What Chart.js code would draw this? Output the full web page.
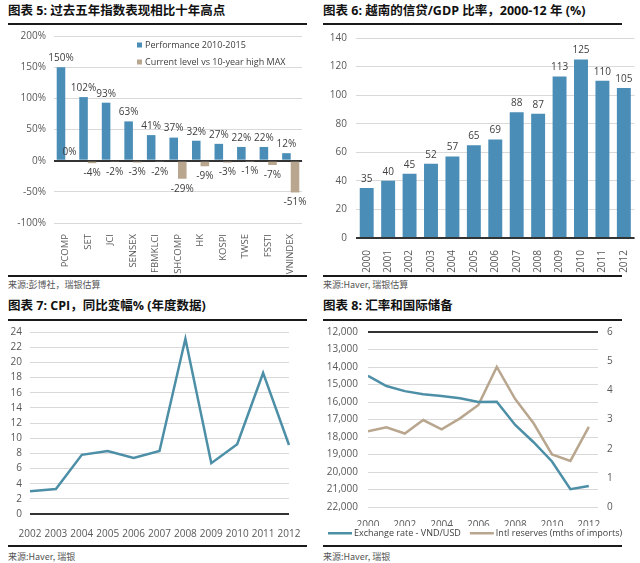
<!DOCTYPE html>
<html>
<head>
<meta charset="utf-8">
<script src="https://cdn.jsdelivr.net/npm/chart.js@4.4.0/dist/chart.umd.min.js"></script>
<style>
  body { margin: 0; background: #fff; }
  #page { position: relative; width: 640px; height: 563px; overflow: hidden; background: #fff; }
  .title { position: absolute; font: bold 12.5px "Open Sans", "Noto Sans CJK SC", sans-serif; color: #111; white-space: nowrap; line-height: 14px; }
  .rule { position: absolute; height: 2px; background: #1a1a1a; }
  .src { position: absolute; font: 9px "Noto Sans CJK SC", sans-serif; color: #555; white-space: nowrap; line-height: 11px; }
  .box { position: absolute; }
</style>
</head>
<body>
<div id="page">
  <div class="title" style="left:8px;top:4px">图表 5: 过去五年指数表现相比十年高点</div>
  <div class="rule" style="left:8px;top:23px;width:299px"></div>
  <div class="box" style="left:0;top:28px;width:320px;height:247px"><canvas id="c5"></canvas></div>
  <div class="rule" style="left:8px;top:275px;width:299px"></div>
  <div class="src" style="left:8px;top:279px">来源:彭博社，瑞银估算</div>

  <div class="title" style="left:323px;top:4px">图表 6: 越南的信贷/GDP 比率，2000-12 年 (%)</div>
  <div class="rule" style="left:323px;top:23px;width:299px"></div>
  <div class="box" style="left:320px;top:28px;width:320px;height:247px"><canvas id="c6"></canvas></div>
  <div class="rule" style="left:323px;top:275px;width:299px"></div>
  <div class="src" style="left:323px;top:279px">来源:Haver, 瑞银估算</div>

  <div class="title" style="left:8px;top:299px">图表 7: CPI，同比变幅% (年度数据)</div>
  <div class="rule" style="left:8px;top:319px;width:299px"></div>
  <div class="box" style="left:0;top:322px;width:320px;height:222px"><canvas id="c7"></canvas></div>
  <div class="rule" style="left:8px;top:545px;width:299px"></div>
  <div class="src" style="left:8px;top:551px">来源:Haver, 瑞银</div>

  <div class="title" style="left:323px;top:299px">图表 8: 汇率和国际储备</div>
  <div class="rule" style="left:323px;top:319px;width:299px"></div>
  <div class="box" style="left:320px;top:322px;width:320px;height:222px"><canvas id="c8"></canvas></div>
  <div class="rule" style="left:323px;top:545px;width:299px"></div>
  <div class="src" style="left:323px;top:551px">来源:Haver, 瑞银</div>
</div>

<script>
// chart 5
const indexNames = ['PCOMP', 'SET', 'JCI', 'SENSEX', 'FBMKLCI', 'SHCOMP', 'HK', 'KOSPI', 'TWSE', 'FSSTI', 'VNINDEX'];
const performance = [150, 102, 93, 63, 41, 37, 32, 27, 22, 22, 12];
const vsHigh = [0, -4, -2, -3, -2, -29, -9, -3, -1, -7, -51];

// chart 6
const creditYears = ['2000', '2001', '2002', '2003', '2004', '2005', '2006', '2007', '2008', '2009', '2010', '2011', '2012'];
const creditGdp = [35, 40, 45, 52, 57, 65, 69, 88, 87, 113, 125, 110, 105];

// chart 7
const cpiYears = ['2002', '2003', '2004', '2005', '2006', '2007', '2008', '2009', '2010', '2011', '2012'];
const cpi = [3.0, 3.3, 7.8, 8.3, 7.4, 8.3, 23.1, 6.7, 9.2, 18.6, 9.1];

// chart 8
const fxYears = [2000, 2001, 2002, 2003, 2004, 2005, 2006, 2007, 2008, 2009, 2010, 2011, 2012];
const vndUsd = [14500, 15090, 15380, 15560, 15660, 15790, 16000, 15980, 17310, 18300, 19400, 20980, 20800];
const reserves = [2.6, 2.73, 2.52, 2.98, 2.66, 3.04, 3.5, 4.8, 3.7, 2.87, 1.8, 1.58, 2.75];

const BLUE = '#4a8db7';
const TEAL = '#4d8fa6';
const TAN = '#b9a68f';
const GRID = '#d9d9d9';
const DARK = '#333333';
const TICK = '#595959';
const FONT = '"Open Sans", "Noto Sans", sans-serif';

Chart.defaults.font.family = FONT;
Chart.defaults.font.size = 10;
Chart.defaults.color = TICK;
Chart.defaults.animation = false;
Chart.defaults.responsive = true;
Chart.defaults.maintainAspectRatio = false;

// value labels above positive bars, below negative ones
const barLabels = {
  id: 'barLabels',
  afterDatasetsDraw(chart, args, opts) {
    const ctx = chart.ctx;
    ctx.save();
    ctx.font = '10px ' + FONT;
    ctx.fillStyle = '#404040';
    ctx.textAlign = 'center';
    chart.data.datasets.forEach((ds, i) => {
      chart.getDatasetMeta(i).data.forEach((bar, j) => {
        const v = ds.data[j];
        const text = v + (opts.suffix || '');
        if (v >= 0) {
          ctx.textBaseline = 'bottom';
          ctx.fillText(text, bar.x, bar.y - 4);
        } else {
          ctx.textBaseline = 'top';
          ctx.fillText(text, bar.x, bar.y + 5);
        }
      });
    });
    ctx.restore();
  }
};

// square markers, stacked, inside the plot (chart 5)
const boxLegend = {
  id: 'boxLegend',
  afterDraw(chart, args, opts) {
    const ctx = chart.ctx;
    const a = chart.chartArea;
    ctx.save();
    ctx.font = '9px ' + FONT;
    ctx.textBaseline = 'middle';
    ctx.textAlign = 'left';
    chart.data.datasets.forEach((ds, i) => {
      const x = a.left + opts.x;
      const y = a.top + opts.y + i * opts.step;
      ctx.fillStyle = ds.backgroundColor;
      ctx.fillRect(x, y - 2.5, 5, 5);
      ctx.fillStyle = '#404040';
      ctx.fillText(ds.label, x + 8, y);
    });
    ctx.restore();
  }
};

// line markers in one row under the x axis (chart 8)
const lineLegend = {
  id: 'lineLegend',
  afterDraw(chart, args, opts) {
    const ctx = chart.ctx;
    ctx.save();
    ctx.font = '9px ' + FONT;
    ctx.textBaseline = 'middle';
    ctx.textAlign = 'left';
    let x = opts.x;
    const y = opts.y;
    chart.data.datasets.forEach((ds) => {
      ctx.fillStyle = ds.borderColor;
      ctx.fillRect(x, y - 1, 24, 2.5);
      ctx.fillStyle = '#404040';
      ctx.fillText(ds.label, x + 26, y);
      x += 26 + ctx.measureText(ds.label).width + 9;
    });
    ctx.restore();
  }
};

function zeroGrid(zero) {
  return {
    drawTicks: false,
    color: (c) => (c.tick && c.tick.value === zero ? DARK : GRID),
    lineWidth: (c) => (c.tick && c.tick.value === zero ? 2 : 1)
  };
}

// fixed axis width, no extra label overhang so layout.padding sets the plot top
function fixWidth(w) {
  return (s) => { s.width = w; s.paddingTop = 0; s.paddingBottom = 0; };
}

new Chart(document.getElementById('c5'), {
  type: 'bar',
  data: {
    labels: indexNames,
    datasets: [
      { label: 'Performance 2010-2015', data: performance, backgroundColor: BLUE },
      { label: 'Current level vs 10-year high MAX', data: vsHigh, backgroundColor: TAN }
    ]
  },
  options: {
    layout: { padding: { top: 8, right: 18, left: 0, bottom: 0 } },
    categoryPercentage: 0.76,
    barPercentage: 1,
    plugins: {
      legend: { display: false },
      tooltip: { enabled: false },
      barLabels: { suffix: '%' },
      boxLegend: { x: 83, y: 9, step: 17 }
    },
    scales: {
      x: {
        grid: { display: false },
        border: { display: false },
        ticks: { minRotation: 90, maxRotation: 90, padding: 3, autoSkip: false, font: { size: 9.5 } },
        afterFit: (s) => { s.height = 52; }
      },
      y: {
        min: -100, max: 200,
        grid: zeroGrid(0),
        border: { display: false },
        ticks: { stepSize: 50, padding: 8, autoSkip: false, callback: (v) => v + '%' },
        afterFit: fixWidth(54)
      }
    }
  },
  plugins: [barLabels, boxLegend]
});

new Chart(document.getElementById('c6'), {
  type: 'bar',
  data: {
    labels: creditYears,
    datasets: [{ label: 'Credit/GDP', data: creditGdp, backgroundColor: BLUE }]
  },
  options: {
    layout: { padding: { top: 10, right: 4, left: 0, bottom: 0 } },
    categoryPercentage: 0.65,
    barPercentage: 1,
    plugins: { legend: { display: false }, tooltip: { enabled: false }, barLabels: {} },
    scales: {
      x: {
        grid: { display: false },
        border: { display: false },
        ticks: { minRotation: 90, maxRotation: 90, padding: 4, autoSkip: false },
        afterFit: (s) => { s.height = 37; }
      },
      y: {
        min: 0, max: 140,
        grid: zeroGrid(0),
        border: { display: false },
        ticks: { stepSize: 20, padding: 9, autoSkip: false },
        afterFit: fixWidth(36)
      }
    }
  },
  plugins: [barLabels]
});

new Chart(document.getElementById('c7'), {
  type: 'line',
  data: {
    labels: cpiYears,
    datasets: [{ label: 'CPI', data: cpi, borderColor: TEAL, borderWidth: 2.5, pointRadius: 0, tension: 0 }]
  },
  options: {
    layout: { padding: { top: 10, right: 31, left: 0, bottom: 0 } },
    plugins: { legend: { display: false }, tooltip: { enabled: false } },
    scales: {
      x: {
        offset: false,
        grid: { display: false },
        border: { display: false },
        ticks: { maxRotation: 0, padding: 6, autoSkip: false },
        afterFit: (s) => { s.height = 30; }
      },
      y: {
        min: 0, max: 24,
        grid: zeroGrid(0),
        border: { display: false },
        ticks: { stepSize: 2, padding: 8, autoSkip: false },
        afterFit: fixWidth(30)
      }
    }
  }
});

new Chart(document.getElementById('c8'), {
  type: 'line',
  data: {
    datasets: [
      {
        label: 'Exchange rate - VND/USD',
        data: fxYears.map((yr, i) => ({ x: yr, y: vndUsd[i] })),
        borderColor: TEAL, borderWidth: 2.5, pointRadius: 0, yAxisID: 'y'
      },
      {
        label: 'Intl reserves (mths of imports)',
        data: fxYears.map((yr, i) => ({ x: yr, y: reserves[i] })),
        borderColor: TAN, borderWidth: 2.5, pointRadius: 0, yAxisID: 'y1'
      }
    ]
  },
  options: {
    layout: { padding: { top: 10, right: 0, left: 0, bottom: 18 } },
    plugins: {
      tooltip: { enabled: false },
      legend: { display: false },
      lineLegend: { x: 8, y: 211 }
    },
    scales: {
      x: {
        type: 'linear',
        min: 2000, max: 2012.5,
        grid: { display: false },
        border: { display: false },
        ticks: { stepSize: 2, includeBounds: false, padding: 4, maxRotation: 0, autoSkip: false, callback: (v) => String(v) },
        afterFit: (s) => { s.height = 19; }
      },
      y: {
        position: 'left',
        reverse: true,
        min: 12000, max: 22000,
        grid: zeroGrid(12000),
        border: { display: false },
        ticks: { stepSize: 1000, padding: 10, autoSkip: false },
        afterFit: fixWidth(48)
      },
      y1: {
        position: 'right',
        min: 0, max: 6,
        grid: { drawOnChartArea: false, drawTicks: false },
        border: { display: false },
        ticks: { stepSize: 1, padding: 9, autoSkip: false },
        afterFit: fixWidth(42)
      }
    }
  },
  plugins: [lineLegend]
});
</script>
</body>
</html>
